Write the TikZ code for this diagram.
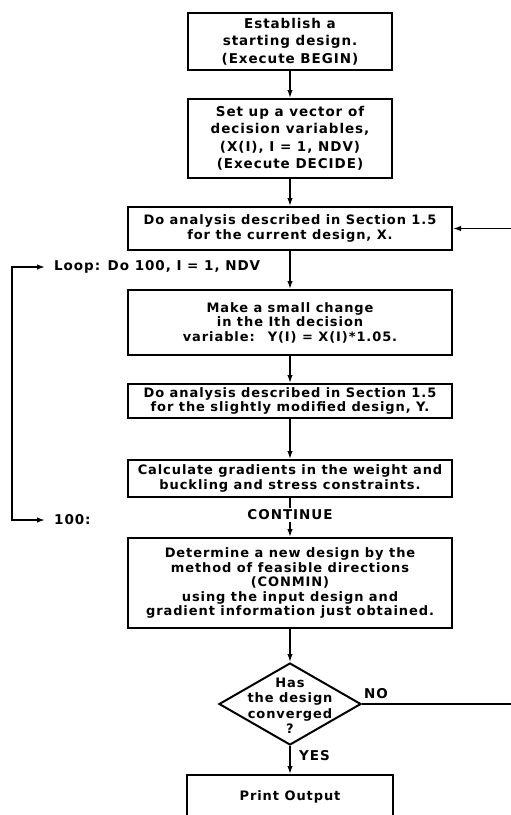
\documentclass[tikz,border=0pt]{standalone}
\usepackage{fontspec}
\setmainfont{DejaVu Sans}[LetterSpace=7]
\usetikzlibrary{arrows.meta,shapes.geometric}
\begin{document}
\begin{tikzpicture}[x=1pt,y=-1pt,
  every node/.style={font=\bfseries\fontsize{13}{14.5}\selectfont},
  stepbox/.style={draw, line width=2pt, align=center, inner sep=0pt, minimum width=324pt},
  topbox/.style={stepbox, minimum width=204pt, font=\bfseries\fontsize{13.5}{17.5}\selectfont},
  decision/.style={draw, diamond, line width=2pt, minimum width=142pt, minimum height=82pt, inner sep=0pt},
  lbl/.style={inner sep=0pt, font=\bfseries\fontsize{13.5}{15}\selectfont},
  tip/.tip={Latex[length=8pt,width=5.5pt]},
  flow/.style={line width=1.5pt, -tip},
  plain/.style={line width=1.5pt}
]
\useasboundingbox (0,0) rectangle (511,815);
\clip (0,0) rectangle (511,815);

% process boxes
\node[topbox, minimum height=57pt] (begin) at (290,41.5)
  {Establish a\\starting design.\\(Execute BEGIN)};
\node[topbox, minimum height=79pt] (decide) at (290,138.5)
  {Set up a vector of\\decision variables,\\(X(I), I = 1, NDV)\\(Execute DECIDE)};
\node[stepbox, minimum height=43pt] (anaX) at (290,228.5)
  {Do analysis described in Section 1.5\\for the current design, X.};
\node[lbl, anchor=west] (loop) at (54,267) {Loop: Do 100, I = 1, NDV};
\node[stepbox, minimum height=65pt] (change) at (290,322.5)
  {Make a small change\\in the Ith decision\\variable:\quad Y(I) = X(I)*1.05.};
\node[stepbox, minimum height=34pt] (anaY) at (290,401)
  {Do analysis described in Section 1.5\\for the slightly modified design, Y.};
\node[stepbox, minimum height=37pt] (grad) at (290,478.5)
  {Calculate gradients in the weight and\\buckling and stress constraints.};
\node[lbl, inner sep=2pt] (cont) at (290,515) {CONTINUE};
\node[lbl, anchor=west] (hundred) at (54,520) {100:};
\node[stepbox, minimum height=90pt] (conmin) at (290,583)
  {Determine a new design by the\\method of feasible directions\\(CONMIN)\\using the input design and\\gradient information just obtained.};

% convergence test
\node[decision] (conv) at (290,704) {};
\node[align=center, inner sep=0pt, font=\bfseries\fontsize{13}{15.5}\selectfont] (convtxt) at (290,706)
  {Has\\the design\\converged\\?};
\node[lbl, anchor=south west] (no) at (364,699) {NO};
\node[lbl, anchor=west] (yes) at (299,756) {YES};

\node[stepbox, minimum width=206pt, minimum height=44pt] (out) at (290,797) {Print Output};

% connectors
\draw[flow] (begin) -- (decide);
\draw[flow] (decide) -- (anaX);
\draw[flow] (anaX) -- (change);
\draw[flow] (change) -- (anaY);
\draw[flow] (anaY) -- (grad);
\draw[plain] (grad) -- (cont);
\draw[flow] (cont) -- (conmin);
\draw[flow] (conmin) -- (conv);
\draw[flow] (conv) -- (out);

% return path when not converged
\coordinate (rrail) at (530,0);
\draw[flow] (conv.east) -- (conv.east -| rrail) -- (anaX.east -| rrail) -- (anaX.east);

% DO-loop bracket
\coordinate (lrail) at (12,0);
\draw[line width=1.5pt, tip-tip, shorten <=9pt, shorten >=9pt]
  (loop.west) -- (loop.west -| lrail) -- (hundred.west -| lrail) -- (hundred.west);
\end{tikzpicture}
\end{document}
